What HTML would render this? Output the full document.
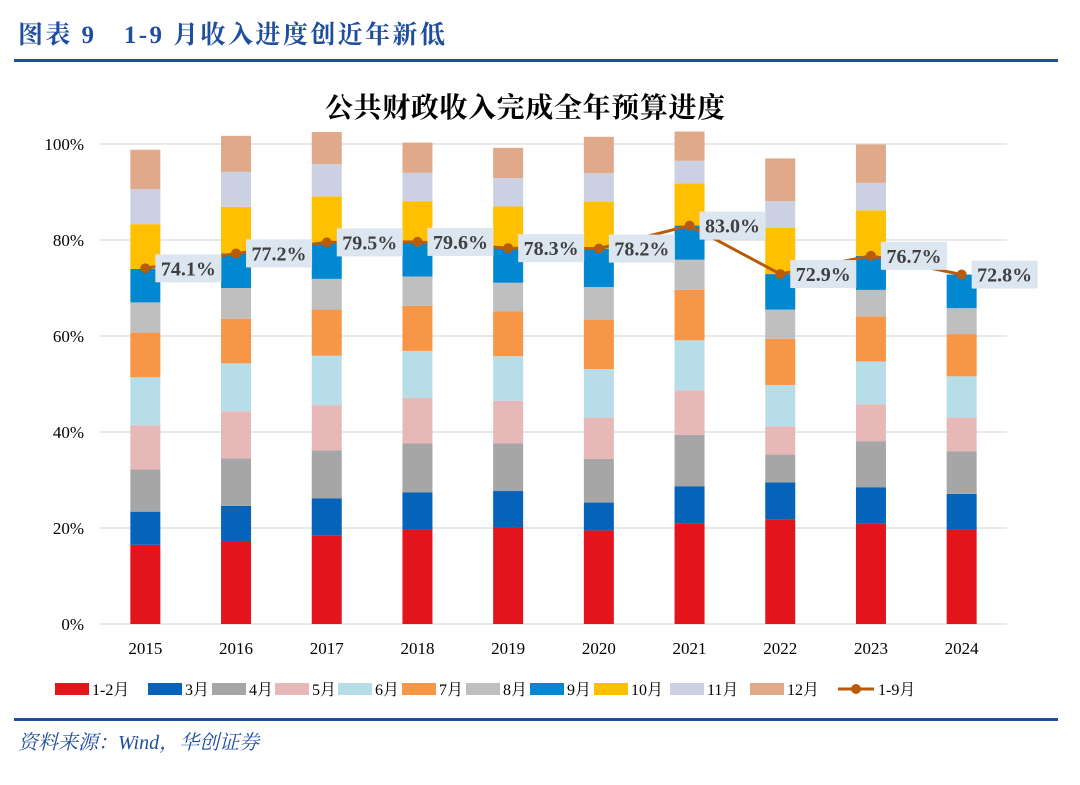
<!DOCTYPE html>
<html><head><meta charset="utf-8">
<style>
body{margin:0;width:1080px;height:780px;background:#fff;overflow:hidden;font-family:"Liberation Serif","Noto Serif CJK SC",serif;}
</style></head>
<body>
<svg id="c" width="1080" height="780" xmlns="http://www.w3.org/2000/svg">
<text x="18" y="43" font-size="25" font-weight="bold" fill="#1f4e9c" textLength="427">图表 9　1-9 月收入进度创近年新低</text>
<rect x="14" y="59" width="1044" height="3" fill="#1f4e9c"/>
<text x="525" y="117" text-anchor="middle" font-size="28" font-weight="bold" fill="#000" textLength="400">公共财政收入完成全年预算进度</text>
<g id="grid"></g><g id="bars"></g><g id="line"></g><g id="labels"></g><g id="legend"></g>
<rect x="14" y="718" width="1044" height="3" fill="#1f4e9c"/>
<text x="18" y="749" font-size="20" font-style="italic" fill="#1f4e9c">资料来源：Wind，华创证券</text>
</svg>
<script>
const years=["2015","2016","2017","2018","2019","2020","2021","2022","2023","2024"];
const seriesNames=["1-2月","3月","4月","5月","6月","7月","8月","9月","10月","11月","12月"];
const m12=[16.5,17.3,18.4,19.7,20.2,19.5,21.0,21.8,20.9,19.7];
const m3=[6.9,7.3,7.8,7.7,7.5,5.8,7.7,7.7,7.6,7.4];
const m4=[8.8,9.9,10.0,10.2,9.9,9.1,10.7,5.8,9.6,8.9];
const m5=[9.2,9.8,9.4,9.5,8.9,8.6,9.3,5.9,7.7,7.0];
const m6=[10.0,10.0,10.3,9.8,9.3,10.1,10.4,8.6,8.9,8.6];
const m7=[9.3,9.3,9.6,9.4,9.3,10.3,10.5,9.6,9.4,8.8];
const m8=[6.3,6.4,6.4,6.1,6.0,6.8,6.3,6.1,5.5,5.4];
const m9=[7.0,7.2,7.6,7.2,7.2,8.0,7.1,7.4,7.1,7.0];
const m10=[9.3,9.7,9.6,8.5,8.7,9.8,8.8,9.6,9.5,null];
const m11=[7.3,7.3,6.7,5.9,5.9,5.9,4.7,5.6,5.7,null];
const m12b=[8.2,7.5,6.7,6.3,6.3,7.6,6.1,8.9,8.0,null];
const cum19=[74.1,77.2,79.5,79.6,78.3,78.2,83.0,72.9,76.7,72.8];
const yTicks=[0,20,40,60,80,100];
const series=[m12,m3,m4,m5,m6,m7,m8,m9,m10,m11,m12b];
const colors=["#e3141c","#0563b9","#a6a6a6","#e6b8b7","#b7dde8","#f79646","#bfbfbf","#0288d1","#ffc000","#ccd0e3","#dfa98a"];
const NS="http://www.w3.org/2000/svg";
const X0=100,X1=1007,Y0=624,Y100=144;
const band=(X1-X0)/years.length;
const xc=i=>X0+band*(i+0.5);
const y=v=>Y0-(Y0-Y100)*v/100;
function mk(t,a,p){const e=document.createElementNS(NS,t);for(const k in a)e.setAttribute(k,a[k]);p.appendChild(e);return e;}
const grid=document.getElementById('grid');
yTicks.forEach(t=>{
  const l=mk('line',{x1:X0,x2:X1,y1:y(t),y2:y(t),stroke:'#d9d9d9','stroke-width':1.3},grid);
  
  
  const tx=mk('text',{x:84,y:y(t)+6,'text-anchor':'end','font-size':17,fill:'#000'},grid);
  tx.textContent=t+'%';
  
  
});
const bars=document.getElementById('bars');
const bw=30;
years.forEach((yr,i)=>{
  let acc=0;
  series.forEach((s,k)=>{
    const v=s[i]; if(v==null)return;
    const r=mk('rect',{x:xc(i)-bw/2,y:y(acc+v),width:bw,height:y(acc)-y(acc+v),fill:colors[k]},bars);
    
    
    acc+=v;
  });
  const tx=mk('text',{x:xc(i),y:654,'text-anchor':'middle','font-size':17,fill:'#000'},bars);
  tx.textContent=yr;
  
  
});
const lg=document.getElementById('line');
const pts=cum19.map((v,i)=>xc(i)+','+y(v)).join(' ');
const pl=mk('polyline',{points:pts,fill:'none',stroke:'#b85b0a','stroke-width':3},lg);


const lb=document.getElementById('labels');
cum19.forEach((v,i)=>{
  const c=mk('circle',{cx:xc(i),cy:y(v),r:5,fill:'#b85b0a'},lg);
  
  
  const bx=mk('rect',{x:xc(i)+10,y:y(v)-14,width:66,height:28,fill:'#dce6f0'},lb);
  
  
  const t=mk('text',{x:xc(i)+43,y:y(v)+7,'text-anchor':'middle','font-size':20,'font-weight':'bold',fill:'#404040'},lb);
  t.textContent=v.toFixed(1)+'%';
  
  
});
const leg=document.getElementById('legend');
const lx=[55,148,212,275,338,402,466,530,594,670,750];
seriesNames.forEach((n,k)=>{
  const r=mk('rect',{x:lx[k],y:683,width:34,height:12,fill:colors[k]},leg);
  
  
  const t=mk('text',{x:lx[k]+37,y:695,'font-size':16,fill:'#000'},leg);
  t.textContent=n;
  
  
});
const ll=mk('line',{x1:838,x2:874,y1:689,y2:689,stroke:'#b85b0a','stroke-width':3},leg);


const lc=mk('circle',{cx:856,cy:689,r:5,fill:'#b85b0a'},leg);


const lt=mk('text',{x:878,y:695,'font-size':16,fill:'#000'},leg);
lt.textContent='1-9月';


</script>
</body></html>
